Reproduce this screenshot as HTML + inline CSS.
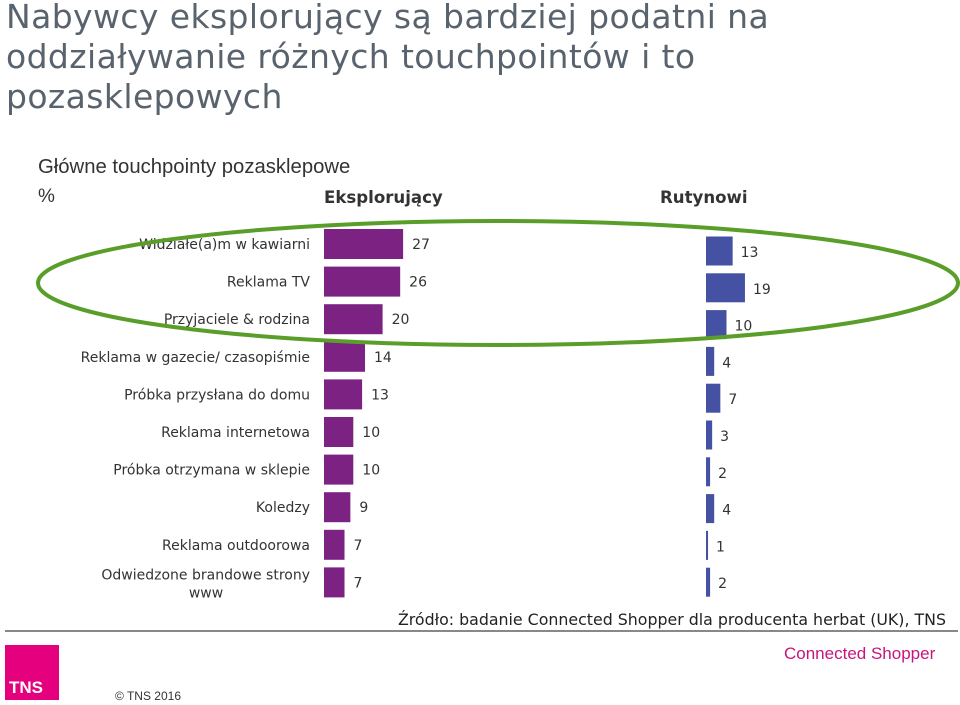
<!DOCTYPE html>
<html><head><meta charset="utf-8"><style>
body{margin:0;width:960px;height:705px;background:#fff;font-family:"Liberation Sans",sans-serif;position:relative;overflow:hidden}
.t{position:absolute;white-space:nowrap}
</style></head><body>
<div class="t" style="left:6px;top:-3px;font-family:'DejaVu Sans',sans-serif;font-size:33px;letter-spacing:0.4px;line-height:40px;color:#59636e">Nabywcy eksplorujący są bardziej podatni na<br>oddziaływanie różnych touchpointów i to<br>pozasklepowych</div>
<div class="t" style="left:38px;top:156px;font-size:20.3px;color:#333">Główne touchpointy pozasklepowe</div>
<div class="t" style="left:38px;top:186px;font-size:19px;color:#333">%</div>
<div class="t" style="left:324px;top:188px;font-family:'DejaVu Sans',sans-serif;font-size:16.6px;font-weight:bold;color:#333">Eksplorujący</div>
<div class="t" style="left:660px;top:188px;font-family:'DejaVu Sans',sans-serif;font-size:16.6px;font-weight:bold;color:#333">Rutynowi</div>
<svg id="chart" width="960" height="705" style="position:absolute;left:0;top:0;font-family:'DejaVu Sans',sans-serif"></svg>
<div style="position:absolute;left:5px;top:630px;width:953px;height:2px;background:#888"></div>
<div class="t" style="right:14px;top:610px;font-family:'DejaVu Sans',sans-serif;font-size:15.8px;color:#222">Źródło: badanie Connected Shopper dla producenta herbat (UK), TNS</div>
<div style="position:absolute;left:5px;top:645px;width:54px;height:55px;background:#e5007e;color:#fff;font-size:17px;font-weight:bold">
<span style="position:absolute;left:4px;bottom:2px">TNS</span></div>
<div class="t" style="left:784px;top:644px;font-size:17px;color:#c8157d">Connected Shopper</div>
<div class="t" style="left:115px;top:689px;font-size:12px;color:#333">© TNS 2016</div>
<script>
const categories=["Widziałe(a)m w kawiarni","Reklama TV","Przyjaciele & rodzina","Reklama w gazecie/ czasopiśmie","Próbka przysłana do domu","Reklama internetowa","Próbka otrzymana w sklepie","Koledzy","Reklama outdoorowa","Odwiedzone brandowe strony www"];
const explorers=[27,26,20,14,13,10,10,9,7,7];
const routine=[13,19,10,4,7,3,2,4,1,2];
const svg=document.getElementById('chart');const NS='http://www.w3.org/2000/svg';
function mk(t,a){const e=document.createElementNS(NS,t);for(const k in a)e.setAttribute(k,a[k]);svg.appendChild(e);return e;}
const px=v=>v*2.93, bx=v=>v*2.05;
const yP=i=>244+i*37.6, yB=i=>251+i*36.8;
categories.forEach((c,i)=>{
  const r=mk('rect',{x:324,y:yP(i)-15,width:px(explorers[i]),height:30,fill:'#7b2282'});
  
  const l=mk('text',{x:324+px(explorers[i])+9,y:yP(i)+5,'font-size':14,fill:'#333'});l.textContent=explorers[i];
  
  const b=mk('rect',{x:706,y:yB(i)-14.5,width:Math.max(bx(routine[i]),2),height:29,fill:'#4551a3'});
  
  const bl=mk('text',{x:706+bx(routine[i])+8,y:yB(i)+6,'font-size':14,fill:'#333'});bl.textContent=routine[i];
  
  if(i===9){
    ['Odwiedzone brandowe strony','www'].forEach((s,j)=>{const t=mk('text',{x:j?206:310,y:yP(i)-3+j*18,'text-anchor':j?'middle':'end','font-size':14,fill:'#333'});t.textContent=s;
    });
  } else {
    const t=mk('text',{x:310,y:yP(i)+5,'text-anchor':'end','font-size':14,fill:'#333'});t.textContent=c;
    
  }
});
const e=mk('ellipse',{cx:498,cy:283,rx:460,ry:62,fill:'none',stroke:'#5a9e2a','stroke-width':4});

</script>
</body></html>
